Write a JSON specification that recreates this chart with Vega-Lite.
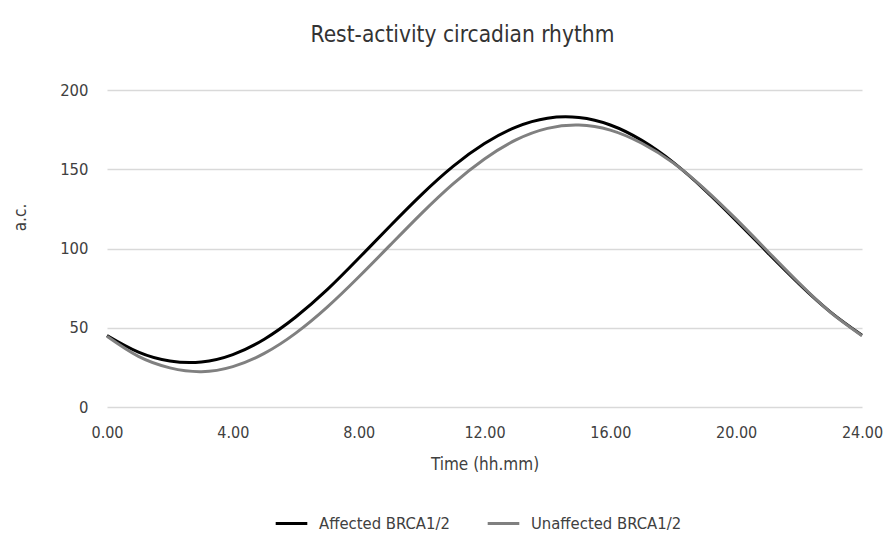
{
  "$schema": "https://vega.github.io/schema/vega-lite/v6.json",
  "width": 755,
  "height": 317,
  "autosize": {"type": "none"},
  "padding": {"left": 107, "top": 90, "right": 22, "bottom": 130},
  "background": "white",
  "title": {
    "text": "Rest-activity circadian rhythm",
    "font": "DejaVu Sans Condensed, Roboto, sans-serif",
    "fontSize": 22.5,
    "fontWeight": "normal",
    "color": "#333333",
    "anchor": "middle",
    "dx": -22,
    "offset": 36
  },
  "config": {
    "view": {"stroke": null},
    "font": "DejaVu Sans Condensed, Roboto, sans-serif"
  },
  "data": {
    "values": [
      {"t": 0, "series": "Affected BRCA1/2", "v": 45.1},
      {"t": 1, "series": "Affected BRCA1/2", "v": 34.6},
      {"t": 2, "series": "Affected BRCA1/2", "v": 29.0},
      {"t": 3, "series": "Affected BRCA1/2", "v": 28.4},
      {"t": 4, "series": "Affected BRCA1/2", "v": 33.1},
      {"t": 5, "series": "Affected BRCA1/2", "v": 42.8},
      {"t": 6, "series": "Affected BRCA1/2", "v": 56.8},
      {"t": 7, "series": "Affected BRCA1/2", "v": 74.0},
      {"t": 8, "series": "Affected BRCA1/2", "v": 93.8},
      {"t": 9, "series": "Affected BRCA1/2", "v": 114.2},
      {"t": 10, "series": "Affected BRCA1/2", "v": 134.0},
      {"t": 11, "series": "Affected BRCA1/2", "v": 151.8},
      {"t": 12, "series": "Affected BRCA1/2", "v": 166.2},
      {"t": 13, "series": "Affected BRCA1/2", "v": 176.6},
      {"t": 14, "series": "Affected BRCA1/2", "v": 182.2},
      {"t": 15, "series": "Affected BRCA1/2", "v": 182.6},
      {"t": 16, "series": "Affected BRCA1/2", "v": 177.9},
      {"t": 17, "series": "Affected BRCA1/2", "v": 168.2},
      {"t": 18, "series": "Affected BRCA1/2", "v": 154.3},
      {"t": 19, "series": "Affected BRCA1/2", "v": 137.0},
      {"t": 20, "series": "Affected BRCA1/2", "v": 117.6},
      {"t": 21, "series": "Affected BRCA1/2", "v": 97.4},
      {"t": 22, "series": "Affected BRCA1/2", "v": 77.7},
      {"t": 23, "series": "Affected BRCA1/2", "v": 59.9},
      {"t": 24, "series": "Affected BRCA1/2", "v": 45.3},
      {"t": 0, "series": "Unaffected BRCA1/2", "v": 44.6},
      {"t": 1, "series": "Unaffected BRCA1/2", "v": 31.9},
      {"t": 2, "series": "Unaffected BRCA1/2", "v": 24.7},
      {"t": 3, "series": "Unaffected BRCA1/2", "v": 22.3},
      {"t": 4, "series": "Unaffected BRCA1/2", "v": 25.5},
      {"t": 5, "series": "Unaffected BRCA1/2", "v": 33.8},
      {"t": 6, "series": "Unaffected BRCA1/2", "v": 46.6},
      {"t": 7, "series": "Unaffected BRCA1/2", "v": 63.0},
      {"t": 8, "series": "Unaffected BRCA1/2", "v": 82.0},
      {"t": 9, "series": "Unaffected BRCA1/2", "v": 102.1},
      {"t": 10, "series": "Unaffected BRCA1/2", "v": 122.2},
      {"t": 11, "series": "Unaffected BRCA1/2", "v": 140.8},
      {"t": 12, "series": "Unaffected BRCA1/2", "v": 156.5},
      {"t": 13, "series": "Unaffected BRCA1/2", "v": 168.5},
      {"t": 14, "series": "Unaffected BRCA1/2", "v": 175.8},
      {"t": 15, "series": "Unaffected BRCA1/2", "v": 177.9},
      {"t": 16, "series": "Unaffected BRCA1/2", "v": 174.7},
      {"t": 17, "series": "Unaffected BRCA1/2", "v": 166.4},
      {"t": 18, "series": "Unaffected BRCA1/2", "v": 154.0},
      {"t": 19, "series": "Unaffected BRCA1/2", "v": 137.5},
      {"t": 20, "series": "Unaffected BRCA1/2", "v": 118.5},
      {"t": 21, "series": "Unaffected BRCA1/2", "v": 98.3},
      {"t": 22, "series": "Unaffected BRCA1/2", "v": 78.2},
      {"t": 23, "series": "Unaffected BRCA1/2", "v": 59.7},
      {"t": 24, "series": "Unaffected BRCA1/2", "v": 45.0}
    ]
  },
  "mark": {"type": "line", "interpolate": "natural", "strokeWidth": 3},
  "encoding": {
    "x": {
      "field": "t",
      "type": "quantitative",
      "scale": {"domain": [0, 24], "nice": false},
      "axis": {
        "title": "Time (hh.mm)",
        "values": [0, 4, 8, 12, 16, 20, 24],
        "format": ".2f",
        "grid": false,
        "domain": false,
        "ticks": false,
        "labelFlush": false,
        "labelFontSize": 16,
        "labelColor": "#404040",
        "labelPadding": 17,
        "titleFontSize": 17,
        "titleFontWeight": "normal",
        "titleColor": "#404040",
        "titlePadding": 16
      }
    },
    "y": {
      "field": "v",
      "type": "quantitative",
      "scale": {"domain": [0, 200], "nice": false},
      "axis": {
        "title": "a.c.",
        "values": [0, 50, 100, 150, 200],
        "grid": true,
        "gridColor": "#d9d9d9",
        "gridWidth": 1.5,
        "domain": false,
        "ticks": false,
        "labelFontSize": 16.5,
        "labelColor": "#404040",
        "labelPadding": 19,
        "titleFontSize": 17,
        "titleFontWeight": "normal",
        "titleColor": "#404040",
        "titleX": -87,
        "titleY": 127,
        "titleAlign": "center",
        "titleBaseline": "middle",
        "titleAngle": -90
      }
    },
    "color": {
      "field": "series",
      "type": "nominal",
      "scale": {
        "domain": ["Affected BRCA1/2", "Unaffected BRCA1/2"],
        "range": ["#000000", "#808080"]
      },
      "legend": {
        "title": null,
        "orient": "none",
        "direction": "horizontal",
        "legendX": 167,
        "legendY": 416,
        "symbolType": "stroke",
        "symbolStrokeWidth": 3,
        "symbolSize": 1000,
        "labelFontSize": 16.5,
        "labelColor": "#404040",
        "labelOffset": 10,
        "labelLimit": 400,
        "columnPadding": 31
      }
    }
  }
}
